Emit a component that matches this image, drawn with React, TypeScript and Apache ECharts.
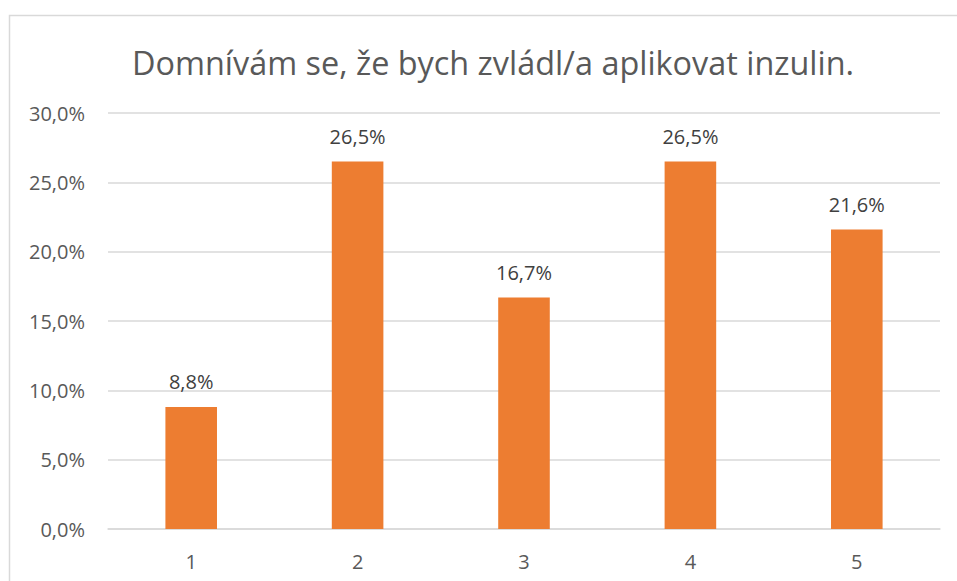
import React, { useEffect, useRef } from "react";
import * as echarts from "echarts";

const title = "Domnívám se, že bych zvládl/a aplikovat inzulin.";
const categories = ["1", "2", "3", "4", "5"];
const values = [8.8, 26.5, 16.7, 26.5, 21.6];

const fmt = (v: number) => v.toFixed(1).replace(".", ",") + "%";

export default function App() {
  const ref = useRef<HTMLDivElement>(null);
  useEffect(() => {
    const chart = echarts.init(ref.current!, null, { renderer: "svg" });
    chart.setOption({
      animation: false,
      backgroundColor: "#ffffff",
      title: {
        text: title,
        left: 488,
        textAlign: "center",
        top: 41,
        textStyle: {
          fontFamily: "Open Sans",
          fontSize: 32.4,
          fontWeight: "normal",
          color: "#595959",
        },
      },
      graphic: [
        {
          type: "rect",
          shape: { x: 9.5, y: 15.5, width: 1000, height: 1000 },
          style: { fill: "none", stroke: "#d9d9d9", lineWidth: 1.5 },
          silent: true,
        },
      ],
      grid: { left: 108, right: 17, top: 113, bottom: 52 },
      xAxis: {
        type: "category",
        data: categories,
        axisLine: { show: true, lineStyle: { color: "#d9d9d9", width: 1.5 } },
        axisTick: { show: false },
        axisLabel: {
          fontFamily: "Open Sans",
          fontSize: 20,
          color: "#595959",
          margin: 22,
        },
      },
      yAxis: {
        type: "value",
        min: 0,
        max: 30,
        interval: 5,
        axisLine: { show: false },
        axisTick: { show: false },
        splitLine: { lineStyle: { color: "#d9d9d9", width: 1.5 } },
        axisLabel: {
          fontFamily: "Open Sans",
          fontSize: 20,
          color: "#595959",
          margin: 23,
          formatter: (v: number) => fmt(v),
        },
      },
      series: [
        {
          type: "bar",
          data: values,
          barWidth: "31%",
          itemStyle: { color: "#ED7D31" },
          label: {
            show: true,
            position: "top",
            distance: 15,
            fontFamily: "Open Sans",
            fontSize: 20,
            color: "#404040",
            formatter: (p: any) => fmt(p.value),
          },
        },
      ],
    });
    return () => chart.dispose();
  }, []);
  return (
    <div
      ref={ref}
      style={{ position: "fixed", left: 0, top: 0, width: 957, height: 581 }}
    />
  );
}
